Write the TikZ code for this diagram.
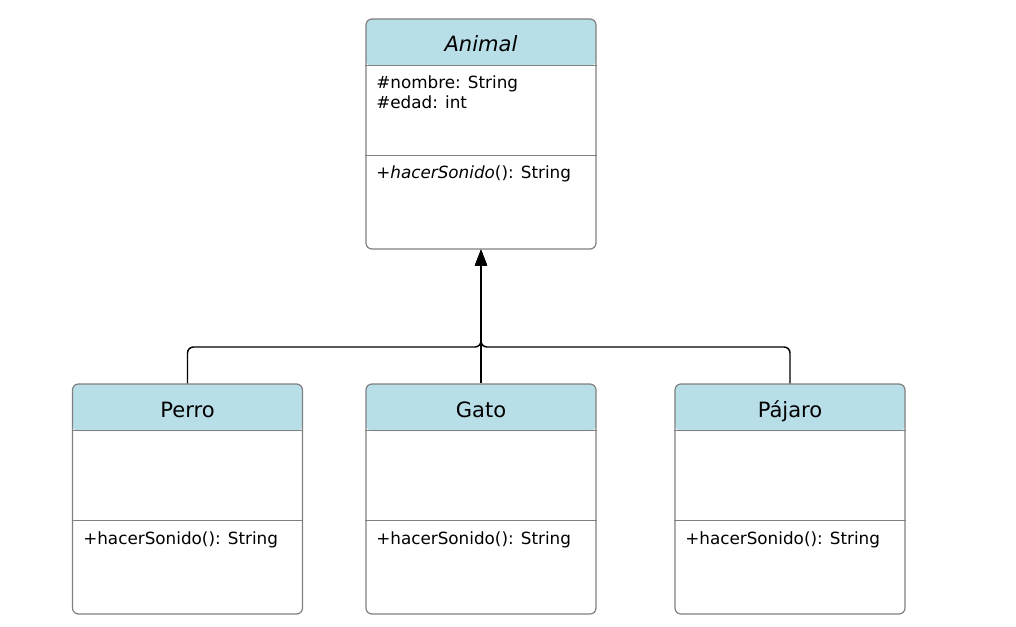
\documentclass[tikz,border=0pt]{standalone}
\usepackage{fontspec}
\setmainfont{DejaVu Sans}
\usetikzlibrary{arrows.meta}
\definecolor{hdrblue}{RGB}{184,222,231}
\definecolor{boxgray}{RGB}{128,128,128}
\tikzset{
  classbox/.style={draw=boxgray, line width=0.9pt, rounded corners=4.5pt, fill=white,
    minimum width=172.5pt, minimum height=172.5pt, inner sep=0pt,
    path picture={\fill[hdrblue] (path picture bounding box.north west) rectangle ([yshift=-35.25pt]path picture bounding box.north east);}},
  divider/.style={draw=boxgray, line width=0.9pt},
  title/.style={font=\fontsize{15.8pt}{19pt}\selectfont, anchor=base},
  member/.style={font=\fontsize{12.6pt}{15pt}\selectfont, anchor=base west, inner sep=0pt},
  inherit/.style={draw=black, line width=1.1pt, rounded corners=4.5pt, -{Triangle[length=12pt,width=9pt]}},
}
\begin{document}
\begin{tikzpicture}[x=0.75pt, y=-0.75pt]
\useasboundingbox (0,0) rectangle (1016,627);
% boxes
\node[classbox] (animal) at (481,134) {};
\node[classbox] (perro) at (187.5,499) {};
\node[classbox] (gato) at (481,499) {};
\node[classbox] (pajaro) at (790,499) {};
% dividers
\foreach \b in {animal,perro,gato,pajaro}{
  \draw[divider] ([yshift=-35.25pt]\b.north west) -- ([yshift=-35.25pt]\b.north east);
  \draw[divider] ([yshift=-102.75pt]\b.north west) -- ([yshift=-102.75pt]\b.north east);
}
% titles
\node[title] (tAnimal) at (481,52) {\itshape Animal};
\node[title] (tPerro) at (187.5,417.5) {Perro};
\node[title] (tGato) at (481,417.5) {Gato};
\node[title] (tPajaro) at (790,417.5) {Pájaro};
% members
\node[member] (aNombre) at (376,88.5) {\#nombre: String};
\node[member] (aEdad) at (376,108.5) {\#edad: int};
\node[member] (aSonido) at (376,179) {+\textit{hacerSonido}(): String};
\node[member] (pSonido) at (83,544) {+hacerSonido(): String};
\node[member] (gSonido) at (376,544) {+hacerSonido(): String};
\node[member] (jSonido) at (685,544) {+hacerSonido(): String};
% connectors
\coordinate (junction) at (481,347);
\draw[inherit] (gato.north) -- (animal.south);
\draw[inherit] (perro.north) |- (junction) -- (animal.south);
\draw[inherit] (pajaro.north) |- (junction) -- (animal.south);
\end{tikzpicture}
\end{document}
